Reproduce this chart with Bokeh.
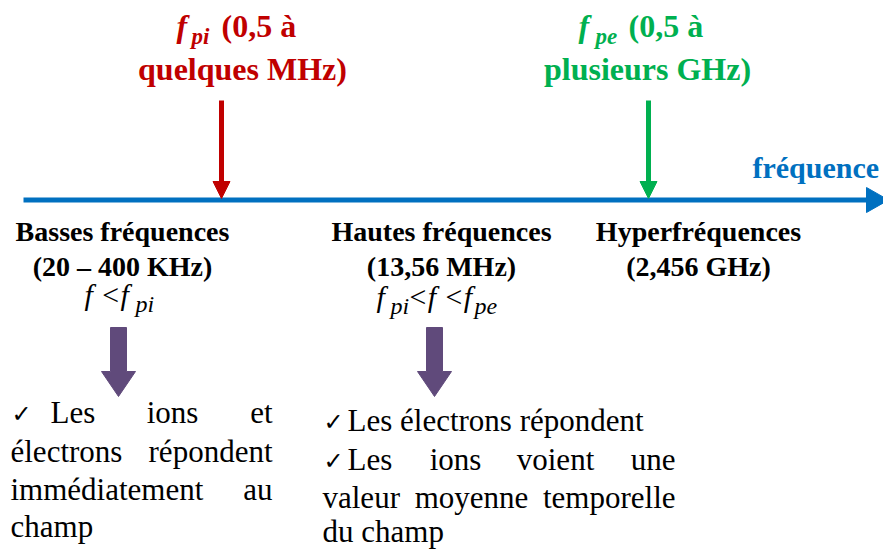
from bokeh.plotting import figure
from bokeh.models import Range1d
from bokeh.core.properties import value
from bokeh.embed import file_html
from bokeh.resources import INLINE

FONT = "Liberation Serif"
BLUE = "#0070C0"
PURPLE = "#604A7B"

# ---------------- data ----------------
axis_label = "fréquence"
plasma_symbol = ["f", "f"]
plasma_sub = ["pi", "pe"]
plasma_line1 = ["(0,5 à", "(0,5 à"]
plasma_line2 = ["quelques MHz)", "plusieurs GHz)"]
plasma_color = ["#C00000", "#00B050"]

regime_name = ["Basses fréquences", "Hautes fréquences", "Hyperfréquences"]
regime_band = ["(20 – 400 KHz)", "(13,56 MHz)", "(2,456 GHz)"]

cond_low = [("f <f", "main"), ("pi", "sub")]
cond_high = [("f", "main"), ("pi", "sub"), ("<f <f", "main"), ("pe", "sub")]

left_lines = [["✓ Les", "ions", "et"],
              ["électrons", "répondent"],
              ["immédiatement", "au"],
              ["champ"]]
right_lines = [["✓ Les électrons répondent"],
               ["✓ Les", "ions", "voient", "une"],
               ["valeur", "moyenne", "temporelle"],
               ["du champ"]]

# ---------------- layout ----------------
W, H = 883, 549
p = figure(width=W, height=H, x_range=Range1d(0, W), y_range=Range1d(H, 0),
           output_backend="svg", toolbar_location=None, min_border=0)
p.xaxis.visible = False
p.yaxis.visible = False
p.xgrid.visible = False
p.ygrid.visible = False
p.outline_line_color = None
p.background_fill_color = "white"
p.border_fill_color = "white"

BASE_SHIFT = 0.36  # empirical offset of the rendered alphabetic baseline (in em)
BODY = 31


def txt(x, y, s, size, color="black", style="normal", align="left", font=FONT):
    p.text(x=[x], y=[y - BASE_SHIFT * size], text=[s], text_font=value(font),
           text_font_size=f"{size}px", text_font_style=style, text_color=color,
           text_align=align, text_baseline="alphabetic")


# main frequency axis
p.segment(x0=[23], y0=[199.5], x1=[868], y1=[199.5], line_width=5, line_color=BLUE)
p.patch([866, 866, 888], [187, 212, 199.5], fill_color=BLUE, line_color=BLUE)
txt(752, 178, axis_label, 30, BLUE, "bold")

# plasma frequency markers
sym_x = [176, 578]
sub_x = [191, 595]
l1_x = [221, 628]
l2_cx = [242, 647]
arrow_x = [221, 648]
for i in range(2):
    c = plasma_color[i]
    txt(sym_x[i], 37, plasma_symbol[i], 32, c, "bold italic")
    txt(sub_x[i], 44, plasma_sub[i], 23, c, "bold italic")
    txt(l1_x[i], 37, plasma_line1[i], 32, c, "bold")
    txt(l2_cx[i], 80, plasma_line2[i], 32, c, "bold", "center")
    ax = arrow_x[i]
    p.segment(x0=[ax], y0=[100], x1=[ax], y1=[184], line_width=5, line_color=c)
    p.patch([ax - 8.5, ax + 8.5, ax], [181, 181, 198], fill_color=c, line_color=c)

# regimes
regime_cx = [122, 441, 698]
for i in range(3):
    txt(regime_cx[i], 241, regime_name[i], 28, "black", "bold", "center")
    txt(regime_cx[i], 276, regime_band[i], 28, "black", "bold", "center")


def formula(parts, xs, y):
    for (s, kind), x in zip(parts, xs):
        if kind == "main":
            txt(x, y, s, 30, "black", "italic")
        else:
            txt(x, y + 7, s, 24, "black", "italic")


formula(cond_low, [84, 135], 305)
formula(cond_high, [376, 390, 407, 474], 307)

# purple arrows
for cx in [118, 434]:
    p.patch([cx - 8, cx + 8, cx + 8, cx + 17, cx, cx - 17, cx - 8],
            [327, 327, 371, 371, 396, 371, 371],
            fill_color=PURPLE, line_color=PURPLE)


def paragraph(lines, x0, x1, baselines, mids, check_gap):
    for li, words in enumerate(lines):
        y = baselines[li]
        n = len(words)
        for wi, w in enumerate(words):
            if wi == 0:
                if w.startswith("✓ "):
                    txt(x0 + 1, y - 1, "✓", 24, "black", "normal", "left", "DejaVu Sans")
                    txt(x0 + check_gap, y, w[2:], BODY)
                else:
                    txt(x0, y, w, BODY)
            elif wi == n - 1:
                txt(x1, y, w, BODY, align="right")
            else:
                txt(mids[li][wi - 1], y, w, BODY, align="center")


paragraph(left_lines, 10, 272, [423, 462, 500, 537], {0: [172]}, 40)
paragraph(right_lines, 322, 675, [431, 470, 508, 542], {1: [455, 555], 2: [471]}, 25)

open("out.html", "w").write(file_html(p, INLINE))
